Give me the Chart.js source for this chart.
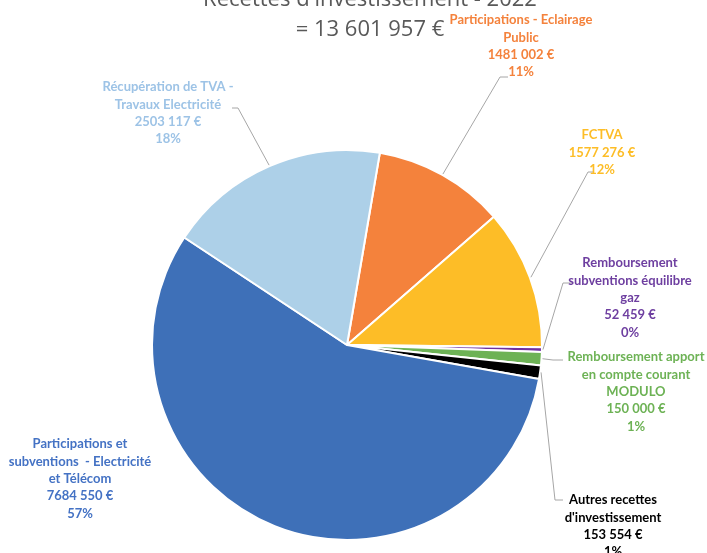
<!DOCTYPE html>
<html>
<head>
<meta charset="utf-8">
<script src="https://cdn.jsdelivr.net/npm/chart.js@4"></script>
<style>
  html, body { margin: 0; padding: 0; background: #fff; }
  #wrap { width: 707px; height: 553px; }
</style>
</head>
<body>
<div id="wrap"><canvas id="pieChart" width="707" height="553"></canvas></div>
<script>
// data
var categories = [
    'Participations - Eclairage\nPublic',
    'FCTVA',
    'Remboursement\nsubventions équilibre\ngaz',
    'Remboursement apport\nen compte courant\nMODULO',
    'Autres recettes\nd\'investissement',
    'Participations et\nsubventions  - Electricité\net Télécom',
    'Récupération de TVA -\nTravaux Electricité'
];
var values = [1481002, 1577276, 52459, 150000, 153554, 7684550, 2503117];
var valueLabels = ['1481 002 €', '1577 276 €', '52 459 €', '150 000 €', '153 554 €', '7684 550 €', '2503 117 €'];
var percentLabels = ['11%', '12%', '0%', '1%', '1%', '57%', '18%'];
var titleLines = ['Recettes d\'investissement - 2022', '= 13 601 957 €'];

var sliceColors = ['#F4823C', '#FDBD27', '#7030A0', '#6DB255', '#000000', '#3E70B8', '#ADD0E8'];
var textColors = ['#F4823C', '#FDBD27', '#6E3FA0', '#6DB255', '#000000', '#4472C4', '#9DC3E6'];

// label placement: centre x, first line y, elbow x/y, end of leader (null = no leader)
var labelLayout = [
    { x: 521, y: 20,  ex: 500, ey: 77,  lx: 508 },
    { x: 602, y: 135, ex: 588, ey: 172, lx: 594 },
    { x: 630, y: 263, ex: 563, ey: 283, lx: 573 },
    { x: 636, y: 357, ex: 553, ey: 360, lx: 563 },
    { x: 613, y: 500, ex: 555, ey: 500, lx: 563 },
    { x: 80,  y: 444, ex: null },
    { x: 168, y: 87,  ex: 238, ey: 108, lx: 232 }
];

var labelPlugin = {
    id: 'outLabels',
    afterDraw: function (chart) {
        var ctx = chart.ctx;
        var meta = chart.getDatasetMeta(0);
        ctx.save();
        // title
        ctx.fillStyle = '#595959';
        ctx.font = '22px "Open Sans", sans-serif';
        ctx.textAlign = 'center';
        ctx.textBaseline = 'alphabetic';
        ctx.fillText(titleLines[0], 370, 6);
        ctx.fillText(titleLines[1], 370, 36);

        meta.data.forEach(function (arc, i) {
            var L = labelLayout[i];
            var p = arc.getProps(['x', 'y', 'startAngle', 'endAngle', 'outerRadius']);
            var mid = (p.startAngle + p.endAngle) / 2;
            if (L.ex !== null) {
                var ax = p.x + Math.cos(mid) * (p.outerRadius + 1);
                var ay = p.y + Math.sin(mid) * (p.outerRadius + 1);
                ctx.strokeStyle = '#A6A6A6';
                ctx.lineWidth = 1;
                ctx.beginPath();
                ctx.moveTo(ax, ay);
                ctx.lineTo(L.ex, L.ey);
                ctx.lineTo(L.lx, L.ey);
                ctx.stroke();
            }
            var lines = categories[i].split('\n').concat([valueLabels[i], percentLabels[i]]);
            ctx.fillStyle = textColors[i];
            ctx.font = 'bold 13px Lato, sans-serif';
            ctx.textAlign = 'center';
            ctx.textBaseline = 'middle';
            lines.forEach(function (t, k) {
                ctx.fillText(t, L.x, L.y + k * 17.4);
            });
        });
        ctx.restore();
    }
};

new Chart(document.getElementById('pieChart').getContext('2d'), {
    type: 'pie',
    data: {
        labels: categories,
        datasets: [{
            data: values,
            backgroundColor: sliceColors,
            borderColor: '#FFFFFF',
            borderWidth: 2
        }]
    },
    options: {
        responsive: false,
        animation: false,
        rotation: 9.7,
        layout: { padding: { top: 149, bottom: 12, left: 151, right: 164 } },
        plugins: {
            legend: { display: false },
            tooltip: { enabled: false },
            title: { display: false }
        }
    },
    plugins: [labelPlugin]
});
</script>
</body>
</html>
